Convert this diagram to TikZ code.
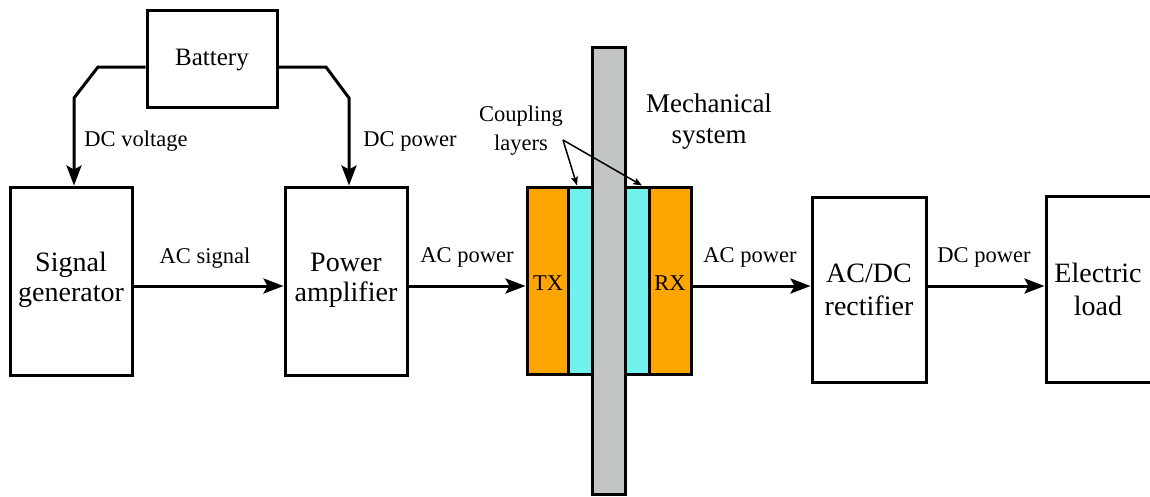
\documentclass[tikz,border=0pt]{standalone}
\usepackage{fontspec}
\setmainfont{Liberation Serif}
\newfontfamily\diagserif{Liberation Serif}
\usetikzlibrary{arrows.meta}
\definecolor{txorange}{HTML}{FFA500}
\definecolor{layercyan}{HTML}{72F2EC}
\definecolor{bargray}{HTML}{C2C5C5}
\begin{document}
\begin{tikzpicture}[x=1pt,y=-1pt,
  blk/.style={draw=black, line width=3pt, inner sep=0pt},
  arr/.style={line width=3pt, -{Stealth[length=20pt,width=15pt,inset=4pt]}},
  thinarr/.style={line width=1.5pt, -{Stealth[length=9pt,width=7pt,inset=2pt]}},
  lab/.style={font=\diagserif\fontsize{22.5}{26}\selectfont, inner sep=0pt, anchor=base},
  big/.style={font=\diagserif\fontsize{28}{30}\selectfont, inner sep=0pt, anchor=base},
  mid/.style={font=\diagserif\fontsize{25}{28}\selectfont, inner sep=0pt, anchor=base}]
\useasboundingbox (0,0) rectangle (1150,496);
\fill[white] (0,0) rectangle (1150,496);

% boxes
\node[blk, minimum width=130pt, minimum height=97pt] (bat) at (212,58.5) {};
\node[blk, minimum width=122pt, minimum height=188pt] (sig) at (71,281) {};
\node[blk, minimum width=122pt, minimum height=188pt] (pa) at (346,281) {};
\node[blk, fill=txorange, minimum width=41pt, minimum height=187pt] (tx) at (547.5,280.5) {};
\node[blk, fill=layercyan, minimum width=24pt, minimum height=187pt] (cyl) at (580,280.5) {};
\node[blk, fill=layercyan, minimum width=24pt, minimum height=187pt] (cyr) at (637,280.5) {};
\node[blk, fill=txorange, minimum width=42pt, minimum height=187pt] (rx) at (670,280.5) {};
\node[blk, fill=bargray, minimum width=33pt, minimum height=447pt] (bar) at (608.5,270.5) {};
\node[blk, minimum width=114pt, minimum height=185pt] (rect) at (869,289.5) {};
\begin{scope}
\clip (0,0) rectangle (1150,496);
\node[blk, minimum width=120pt, minimum height=186pt] (load) at (1106,289) {};
\end{scope}

% texts in boxes (base = baseline of last line)
\node[mid] (battxt) at (212,65) {Battery};
\node[big, align=center] (sigtxt) at (71,301) {Signal\\generator};
\node[big, align=center] (patxt) at (346,301) {Power\\amplifier};
\node[lab] (txtxt) at (548,290) {TX};
\node[lab] (rxtxt) at (670,290) {RX};
\node[big, align=center, font=\diagserif\fontsize{28}{33}\selectfont] (recttxt) at (869,315) {AC/DC\\rectifier};
\node[big, align=center, font=\diagserif\fontsize{28}{33}\selectfont] (loadtxt) at (1098,315) {Electric\\load};
\node[lab, align=center, font=\diagserif\fontsize{22.5}{29}\selectfont] (cpl) at (521,150) {Coupling\\layers};
\node[big, align=center, font=\diagserif\fontsize{27}{31}\selectfont] (mech) at (709,143) {Mechanical\\system};

% coordinates
\coordinate (lx) at (74,0);
\coordinate (rxx) at (349,0);
\coordinate (ay) at (0,286);
\coordinate (cp) at (563,140);

% battery connectors
\draw[arr] ([yshift=-8.5pt]bat.west) -- (98,67) -- (74,98) -- (sig.north -| lx);
\draw[arr] ([yshift=-8.5pt]bat.east) -- (326,67) -- (349,98) -- (pa.north -| rxx);

% main chain
\draw[arr] (sig.east |- ay) -- (pa.west |- ay);
\draw[arr] (pa.east |- ay) -- (tx.west |- ay);
\draw[arr] (rx.east |- ay) -- (rect.west |- ay);
\draw[arr] (rect.east |- ay) -- (load.west |- ay);

% coupling arrows
\draw[thinarr] (cp) -- ([xshift=-3pt]cyl.north);
\draw[thinarr] (cp) -- ([xshift=5pt]cyr.north);

% connector labels
\node[lab] (l1) at (136,146) {DC voltage};
\node[lab] (l2) at (410,146) {DC power};
\node[lab] (l3) at (205,263) {AC signal};
\node[lab] (l4) at (467,262) {AC power};
\node[lab] (l5) at (750,262) {AC power};
\node[lab] (l6) at (984,262) {DC power};
\end{tikzpicture}
\end{document}
